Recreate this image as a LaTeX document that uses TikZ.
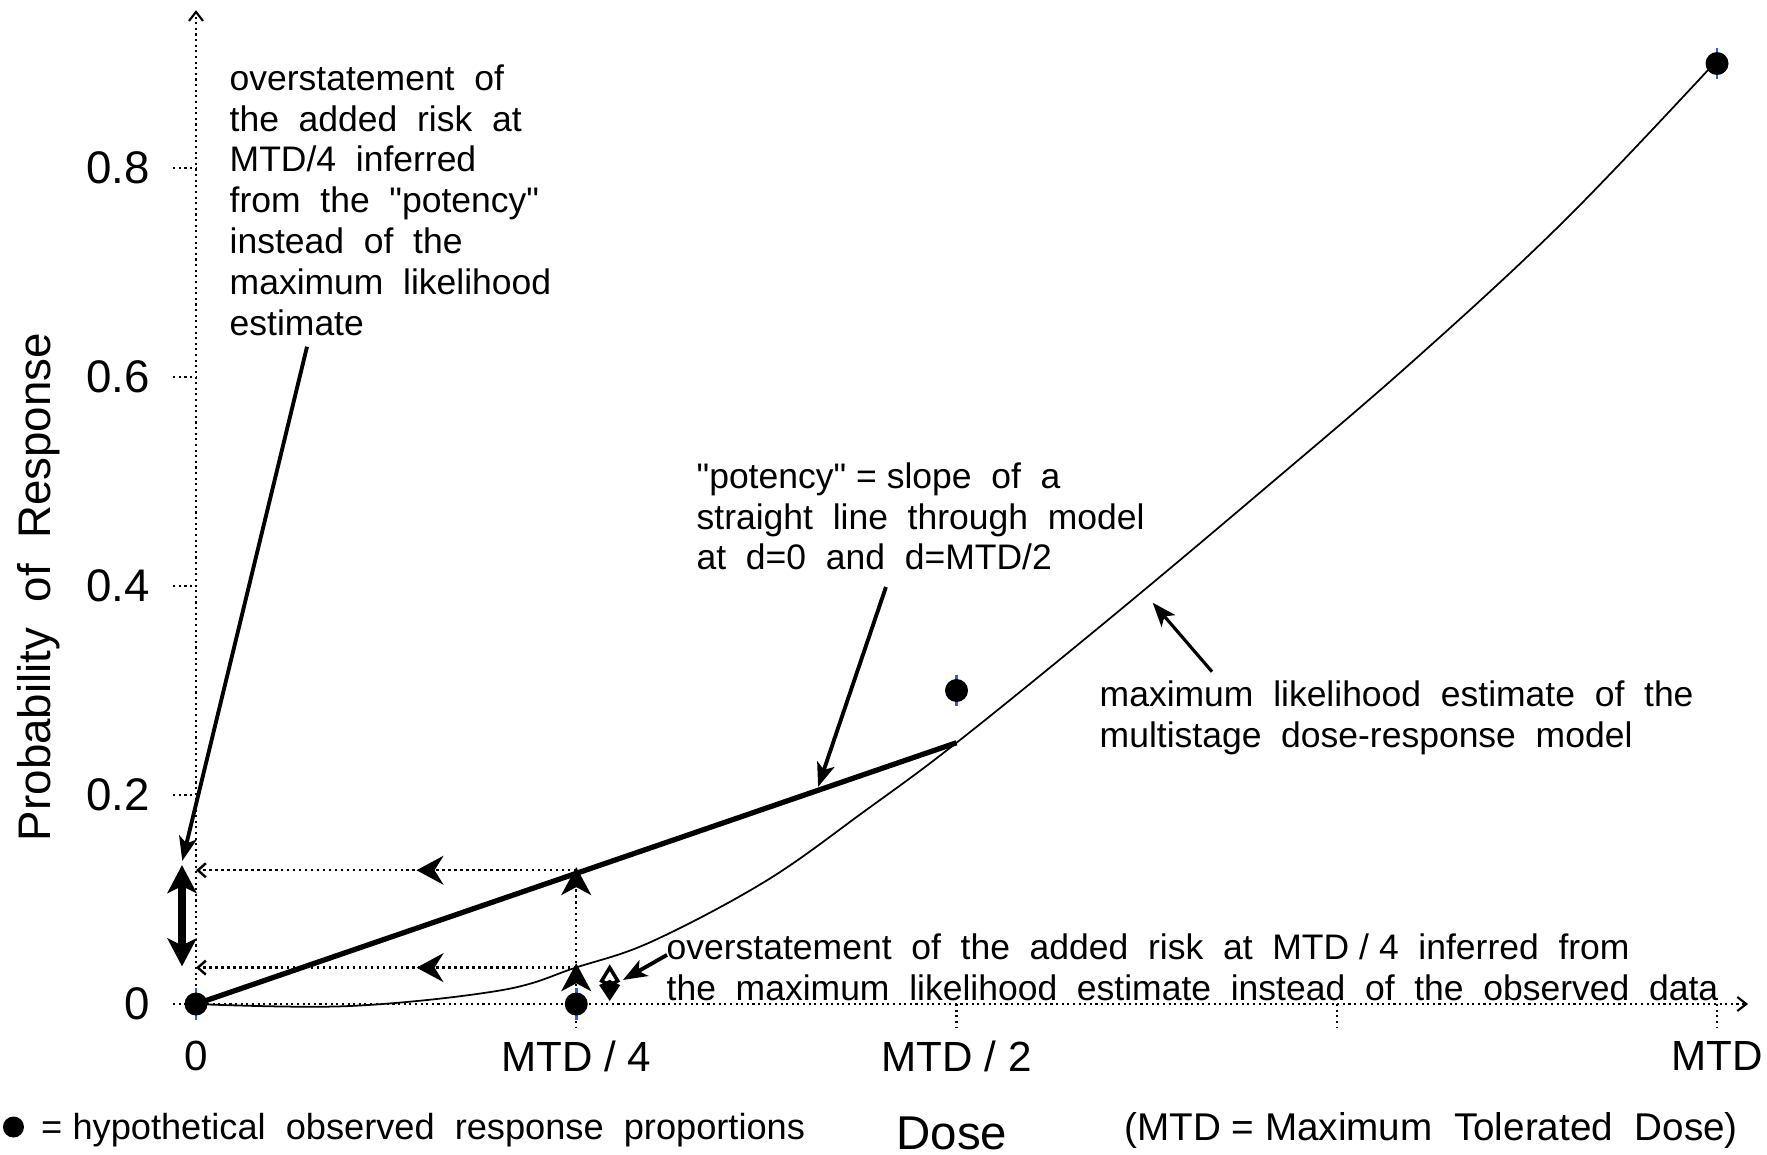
\documentclass[tikz,border=0pt]{standalone}
\usepackage{fontspec}
\setmainfont{Liberation Sans}
\newfontfamily\widefont{Liberation Sans}[WordSpace=2]
\newcommand{\nsp}{\hspace{0.28em}}
\definecolor{barblue}{RGB}{40,100,220}
\usetikzlibrary{arrows.meta,decorations.markings}

\begin{document}
\begin{tikzpicture}[x=15.21cm,y=10.45cm]
\tikzstyle{axis}=[densely dotted, line width=0.6pt]
\tikzstyle{guide}=[densely dotted, line width=0.7pt]
\tikzstyle{note}=[align=left, inner sep=0pt, anchor=north west, font=\fontsize{10.1}{11.6}\selectfont\widefont]
\tikzstyle{ticklab}=[inner sep=0pt, font=\fontsize{12}{14}\selectfont]
\tikzstyle{ylab}=[inner sep=0pt, anchor=east, font=\fontsize{13}{15}\selectfont]
\tikzstyle{dot}=[circle, fill=black, inner sep=0pt, minimum size=2.3mm]
\tikzstyle{errbar}=[barblue, line width=0.8pt]
\tikzstyle{pointer}=[line width=1.1pt, -{Stealth[length=2.4mm,width=1.8mm,inset=0.6mm]}]
\tikzstyle{bigtip}=[-{Stealth[length=2.8mm,width=3mm,inset=0.8mm]}]
\tikzstyle{midtip}=[postaction={decorate}, decoration={markings, mark=at position 0.42 with {\arrow{Stealth[length=2.7mm,width=2.9mm,inset=0.9mm]}}}]

\useasboundingbox (-0.128863,-0.143541) rectangle (1.032873,0.960766);

%axes
\draw [axis,-{Straight Barb[length=0.9mm,width=1.4mm]}] (0,-0.015) -- (0,0.951);
\draw [axis,-{Straight Barb[length=0.9mm,width=1.4mm]}] (-0.015,0) -- (1.0204,0);
\foreach \v in {0.2,0.4,0.6,0.8} \draw [axis] (-0.015,\v) -- (0,\v);
\foreach \u in {0.25,0.5,0.75,1} \draw [axis] (\u,0) -- (\u,-0.023);

%tick labels
\node (y0) [ylab] at (-0.030,0) {0};
\node (y2) [ylab] at (-0.030,0.2) {0.2};
\node (y4) [ylab] at (-0.030,0.4) {0.4};
\node (y6) [ylab] at (-0.030,0.6) {0.6};
\node (y8) [ylab] at (-0.030,0.8) {0.8};
\node (x0) [ticklab, anchor=north] at (0,-0.035) {0};
\node (x1) [ticklab, anchor=north] at (0.25,-0.035) {MTD / 4};
\node (x2) [ticklab, anchor=north] at (0.5,-0.035) {MTD / 2};
\node (x4) [ticklab, anchor=north] at (1,-0.035) {MTD};
\node (ytitle) [rotate=90, font=\fontsize{13}{15}\selectfont\widefont] at (-0.1032,0.399) {Probability of Response};
\node (xtitle) [font=\fontsize{13.5}{15}\selectfont] at (0.497,-0.1234) {Dose};
\node (mtdkey) [font=\fontsize{11}{13}\selectfont\widefont] at (0.812,-0.1206) {(MTD\nsp=\nsp Maximum Tolerated Dose)};

%model curve and potency line
\draw [line width=0.5pt] plot [smooth, tension=0.6] coordinates {(0,0) (0.1,-0.002) (0.2,0.013) (0.25,0.035) (0.3,0.06) (0.375,0.118) (0.44,0.185) (0.5,0.25) (0.6,0.368) (0.7,0.49) (0.8,0.615) (0.9,0.75) (1,0.903)};
\coordinate (fitHalf) at (0.5,0.25);
\draw [line width=1.5pt] (0,0) -- (fitHalf);

%guides at MTD/4
\coordinate (potQ) at (0.25,0.128);
\coordinate (mleQ) at (0.25,0.0348);
\coordinate (potAx) at (0,0.128);
\coordinate (mleAx) at (0,0.0348);
\draw [guide, midtip, -{Straight Barb[length=0.8mm,width=1.4mm]}] (potQ) -- (potAx);
\draw [guide, midtip, -{Straight Barb[length=0.8mm,width=1.4mm]}] (mleQ) -- (mleAx);
\draw [guide, bigtip] (0.25,0.039) -- (0.25,0.131);
\draw [guide, bigtip] (0.25,0) -- (0.25,0.039);

%double arrows
\coordinate (boldTop) at (-0.0092,0.133);
\coordinate (boldBot) at (-0.0092,0.036);
\draw [line width=2.4pt, {Stealth[length=2.8mm,width=2.9mm,inset=0.7mm]}-{Stealth[length=2.8mm,width=2.9mm,inset=0.7mm]}] (boldTop) -- (boldBot);
\coordinate (smallTop) at (0.272,0.038);
\coordinate (smallBot) at (0.272,0.003);
\draw [line width=1pt, {Kite[open,length=2.3mm,width=2.1mm]}-{Kite[length=2.1mm,width=2.1mm]}] (smallTop) -- (smallBot);

%observed proportions
\foreach \px/\py in {0/0,0.25/0,0.5/0.3,1/0.9} \draw [errbar] (\px,\py-0.015) -- (\px,\py+0.015);
\node (P0) [dot] at (0,0) {};
\node (P1) [dot] at (0.25,0) {};
\node (P2) [dot] at (0.5,0.3) {};
\node (P3) [dot] at (1,0.9) {};

%notes
\node (riskNote) [note] at (0.0217,0.8995) {overstatement of\\the added risk at\\MTD/4 inferred\\from the "potency"\\instead of the\\maximum likelihood\\estimate};
\node (potNote) [note] at (0.3287,0.5187) {"potency"\nsp=\nsp slope of a\\straight line through model\\at d=0 and d=MTD/2};
\node (mleNote) [note] at (0.5937,0.310) {maximum likelihood estimate of the\\multistage dose-response model};
\node (dataNote) [note] at (0.309,0.068) {overstatement of the added risk at MTD\nsp/\nsp 4 inferred from\\the maximum likelihood estimate instead of the observed data};

%pointers
\coordinate (riskFrom) at (0.073,0.629);
\coordinate (riskTo) at (-0.009,0.137);
\coordinate (potFrom) at (0.4536,0.399);
\coordinate (potTo) at (0.409,0.2077);
\coordinate (mleFrom) at (0.668,0.318);
\coordinate (mleTo) at (0.629,0.384);
\coordinate (dataFrom) at (0.3097,0.047);
\coordinate (dataTo) at (0.2807,0.023);
\draw [pointer] (riskFrom) -- (riskTo);
\draw [pointer] (potFrom) -- (potTo);
\draw [pointer, line width=0.9pt] (mleFrom) -- (mleTo);
\draw [pointer] (dataFrom) -- (dataTo);

%legend
\node (keyDot) [dot, minimum size=2.1mm] at (-0.1200,-0.1177) {};
\node (keyText) [anchor=west, inner sep=0pt, font=\fontsize{10.3}{12}\selectfont\widefont] at (-0.1022,-0.1206) {=\nsp hypothetical observed response proportions};
\end{tikzpicture}
\end{document}
